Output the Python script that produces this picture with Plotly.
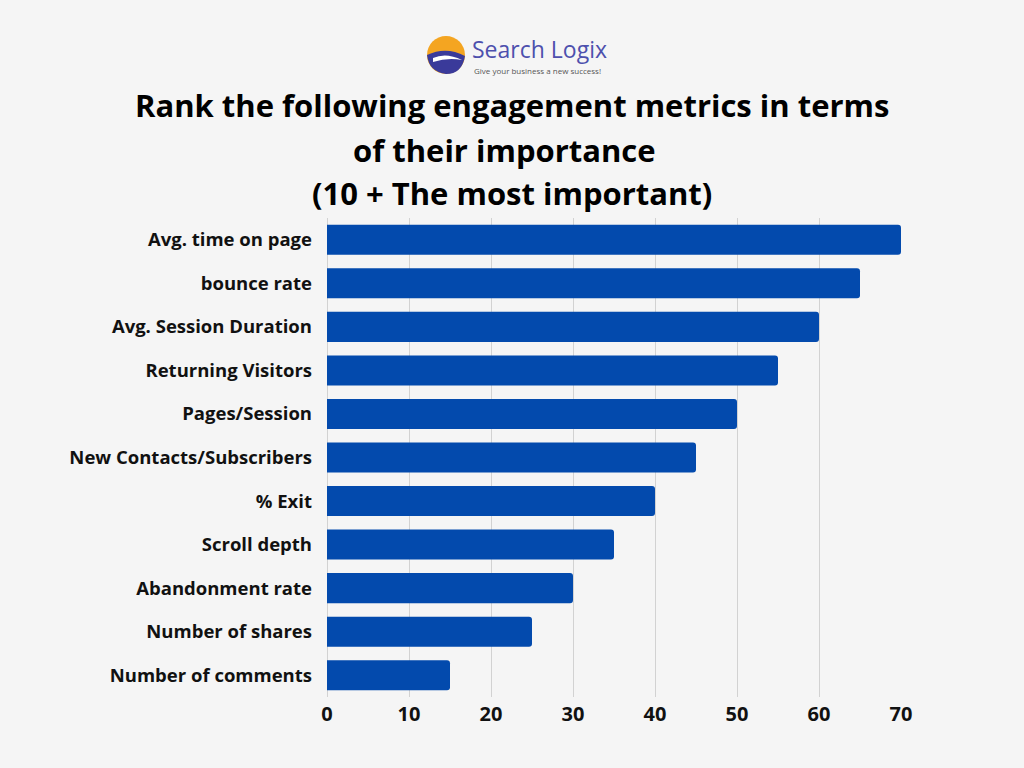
import plotly.graph_objects as go

metrics = [
    "Avg. time on page",
    "bounce rate",
    "Avg. Session Duration",
    "Returning Visitors",
    "Pages/Session",
    "New Contacts/Subscribers",
    "% Exit",
    "Scroll depth",
    "Abandonment rate",
    "Number of shares",
    "Number of comments",
]
scores = [70, 65, 60, 55, 50, 45, 40, 35, 30, 25, 15]
tick_vals = [0, 10, 20, 30, 40, 50, 60, 70]
title_lines = [
    "Rank the following engagement metrics in terms",
    "of their importance ",
    "(10 + The most important)",
]

FONT = "Open Sans"
BG = "#f5f5f5"
BAR = "#034aad"

fig = go.Figure()
fig.add_trace(go.Bar(
    x=scores, y=metrics, orientation="h",
    marker=dict(color=BAR, line=dict(width=0)),
    hoverinfo="x+y",
))

fig.update_layout(
    width=1024, height=768,
    paper_bgcolor=BG, plot_bgcolor=BG,
    margin=dict(l=327, r=123, t=218, b=71),
    bargap=0.31,
    barcornerradius=3,
    showlegend=False,
    font=dict(family=FONT, color="#111111"),
    xaxis=dict(
        range=[0, 70], tickvals=tick_vals, showgrid=True,
        gridcolor="#d2d2d2", gridwidth=1, zeroline=True,
        zerolinecolor="#d2d2d2", zerolinewidth=1,
        tickfont=dict(family=FONT, size=20, color="#111111", weight="bold"),
        ticks="", ticklabelstandoff=3, fixedrange=True,
    ),
    yaxis=dict(
        categoryorder="array", categoryarray=metrics[::-1],
        showgrid=False, ticks="",
        tickfont=dict(family=FONT, size=18.5, color="#111111", weight="bold"),
        ticklabelstandoff=14, fixedrange=True,
    ),
)

def px_x(p):
    return (p - 327) / 574

def px_y(p):
    return (697 - p) / 479

title_pos = [(512, 105), (508, 150), (512, 193)]
for txt, (xc, yc) in zip(title_lines, title_pos):
    fig.add_annotation(
        text=f"<b>{txt}</b>", xref="paper", yref="paper",
        x=px_x(xc), y=px_y(yc),
        xanchor="center", yanchor="middle", showarrow=False,
        font=dict(family=FONT, size=31, color="#000000"),
    )

# logo
fig.add_shape(type="circle", xref="paper", yref="paper",
              x0=px_x(427), x1=px_x(465), y0=px_y(74), y1=px_y(36),
              fillcolor="#f4a521", line=dict(width=0))
fig.add_shape(type="path", xref="paper", yref="paper",
              path=f"M {px_x(427)},{px_y(55)} Q {px_x(446)},{px_y(46)} {px_x(465)},{px_y(56)} "
                   f"Q {px_x(462)},{px_y(74)} {px_x(446)},{px_y(74)} Q {px_x(429)},{px_y(72)} {px_x(427)},{px_y(55)} Z",
              fillcolor="#3a3a9a", line=dict(width=0))
fig.add_shape(type="path", xref="paper", yref="paper",
              path=f"M {px_x(433)},{px_y(58)} Q {px_x(446)},{px_y(52)} {px_x(462)},{px_y(60)} "
                   f"Q {px_x(448)},{px_y(57)} {px_x(433)},{px_y(62)} Z",
              fillcolor="#ffffff", line=dict(width=0))
fig.add_annotation(text="Search Logix", xref="paper", yref="paper",
                   x=px_x(470), y=px_y(49), xanchor="left", yanchor="middle",
                   showarrow=False, font=dict(family=FONT, size=23, color="#4d50ad"))
fig.add_annotation(text="Give your business a new success!", xref="paper", yref="paper",
                   x=px_x(472), y=px_y(70), xanchor="left", yanchor="middle",
                   showarrow=False, font=dict(family=FONT, size=8, color="#555555"))

fig.write_html("out.html", config={"displayModeBar": False})

with open("out.html", "r", encoding="utf-8") as f:
    html = f.read()
html = html.replace("<body>", '<body style="margin:0;padding:0;background:#f5f5f5;">', 1)
with open("out.html", "w", encoding="utf-8") as f:
    f.write(html)
